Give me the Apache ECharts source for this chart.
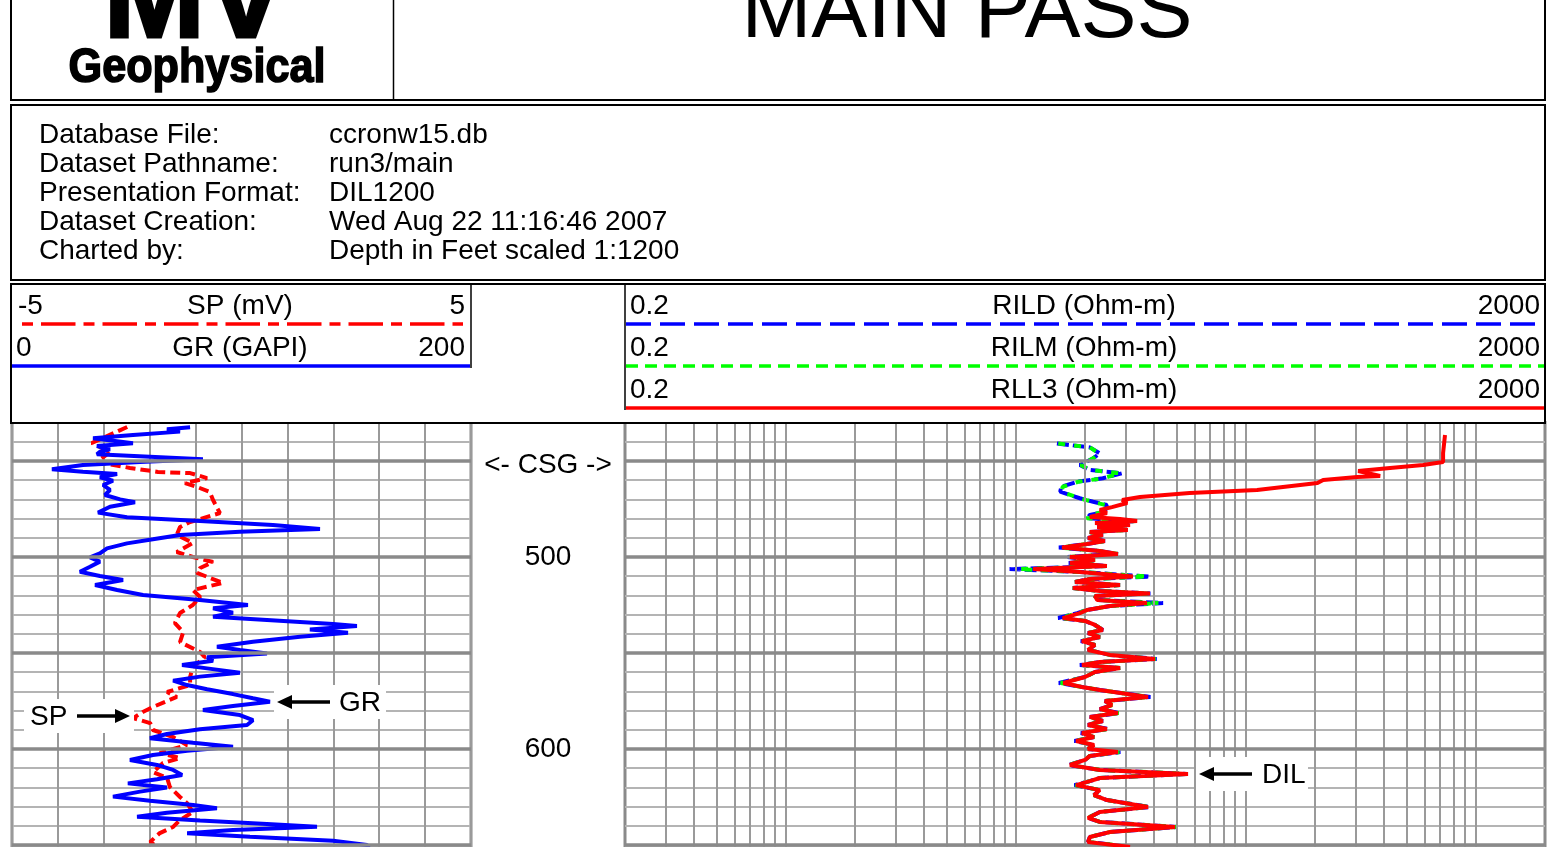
<!DOCTYPE html>
<html><head><meta charset="utf-8">
<script src="https://cdn.jsdelivr.net/npm/echarts@6/dist/echarts.min.js"></script>
<style>html,body{margin:0;padding:0;background:#fff;}#c{width:1554px;height:847px;}</style>
</head><body><div id="c"></div>
<script>
// ---------------- data ----------------
const grDepth = [432.4,433.5,434.7,436.5,438.2,439.4,440.8,442.2,443.9,445.2,446.5,447.8,449.1,450.5,452.1,454.3,455.6,456.8,458.5,460.3,462.5,465.1,467.7,470.0,471.5,473.8,476.9,479.3,481.3,483.3,485.4,486.8,488.5,490.8,492.9,495.5,498.1,500.2,502.4,505.1,507.7,509.9,512.0,514.6,517.2,519.8,522.4,525.0,526.7,529.0,531.1,532.8,534.9,535.9,537.7,539.4,541.5,544.1,546.7,548.4,550.2,552.2,554.0,556.3,558.0,560.3,562.3,564.4,566.7,568.9,571.4,573.6,575.4,577.6,579.7,582.3,585.0,587.5,589.7,592.2,594.4,596.7,598.8,600.9,603.1,605.7,608.3,610.9,613.5,615.8,617.9,620.0,622.2,624.8,626.9,629.2,630.9,633.2,635.3,637.3,639.1,640.5,642.2,643.9,645.7,647.8,650.0,652.6];
const grValue = [77.6,67.5,73.2,52.7,35.3,44.0,52.7,37.0,42.7,38.3,37.0,60.1,83.2,55.8,30.9,17.4,30.9,45.8,38.3,44.0,39.7,42.7,40.5,47.1,53.6,42.7,37.5,50.1,81.9,113.7,134.2,99.3,73.2,61.4,50.1,41.4,38.3,34.0,38.3,34.0,29.6,38.3,48.4,36.2,45.8,57.1,81.9,102.8,87.6,96.3,87.6,111.1,139.9,150.3,129.8,146.4,125.5,105.0,89.3,99.3,111.1,85.0,87.6,74.1,85.0,99.3,81.9,70.2,76.3,85.0,96.3,105.0,112.4,96.3,83.2,99.3,105.0,102.4,81.9,67.5,60.1,78.9,96.3,76.3,61.4,51.4,63.2,70.2,74.1,63.2,50.5,67.5,55.8,44.0,60.1,78.9,89.3,67.5,54.5,81.9,111.1,132.9,96.3,76.3,103.7,139.9,154.7,156.0];

const spDepth = [432.3,440.6,445.3,450.5,453.6,455.7,456.3,458.9,461.5,463.5,466.1,470.3,474.5,477.1,480.2,481.8,484.4,488.5,492.7,497.4,500.0,502.6,505.7,508.3,513.5,517.2,520.8,525.0,529.2,534.4,539.1,544.3,549.5,552.1,557.3,562.5,566.7,570.3,572.9,578.1,580.7,583.9,586.5,590.1,593.8,597.9,602.1,604.7,607.3,612.0,615.1,619.8,625.0,628.1,632.8,637.0,640.6,643.8,648.4,651.0];
const spValue = [-2.49,-3.26,-2.86,-3.15,-2.43,-1.82,-1.12,-0.75,-1.23,-0.97,-0.69,-0.62,-0.53,-0.47,-0.90,-1.12,-1.34,-1.41,-1.06,-1.41,-1.06,-0.62,-0.90,-0.97,-0.40,-1.06,-0.90,-1.06,-1.34,-1.45,-1.27,-1.34,-0.90,-0.80,-1.06,-1.12,-1.12,-1.62,-1.41,-1.93,-2.15,-2.36,-1.99,-1.93,-1.49,-1.19,-1.78,-1.34,-1.71,-1.93,-1.62,-1.56,-1.34,-1.19,-1.06,-1.34,-1.49,-1.78,-1.99,-1.84];

const rll3Depth = [436.5,445.8,450.5,452.1,453.6,455.2,457.8,458.3,459.9,461.5,465.1,466.7,468.8,470.3,471.9,474.0,475.5,477.1,479.2,480.2,481.3,482.3,483.3,484.4,485.9,487.0,488.5,490.1,491.7,493.2,495.1,496.9,498.4,500.0,501.6,503.1,504.7,506.3,507.8,510.2,511.5,513.0,514.6,516.1,517.7,519.0,520.3,522.4,524.0,525.5,527.6,529.2,531.8,533.3,535.4,538.0,539.6,541.7,543.8,545.8,548.4,551.0,553.1,554.7,556.3,557.8,559.9,562.5,565.6,567.7,569.3,572.9,575.0,577.1,579.2,581.3,583.3,585.4,587.5,589.6,591.7,593.8,595.8,597.9,600.0,601.6,603.6,605.7,608.3,610.9,613.0,615.1,616.7,618.8,621.4,624.0,626.6,630.2,632.8,635.9,638.0,640.6,643.2,645.8,648.4,651.0];
const rll3Value = [735,721,721,590,424,308,384,305,217,205,112,57,34.7,29.0,30.5,26.2,23.2,24.9,21.0,28.4,33.7,22.1,31.4,22.6,30.7,21.0,23.9,20.6,24.4,20.4,15.9,23.2,27.8,17.2,22.1,17.2,24.9,11.9,19.0,32.3,21.0,18.1,28.4,17.7,23.2,38.3,22.1,22.6,37.2,25.7,20.4,19.0,16.0,20.0,22.1,23.9,20.6,23.2,19.4,22.1,20.6,25.7,40.3,23.2,19.4,28.4,22.1,20.0,16.1,19.4,23.2,37.6,24.4,26.2,23.2,27.8,21.0,23.9,20.6,24.9,19.4,21.9,18.3,21.9,20.6,27.8,21.0,20.0,17.2,23.2,56.1,23.2,21.0,18.3,23.2,21.9,24.9,37.6,23.2,20.6,23.2,49.3,25.7,21.0,20.6,31.4];

const rildDepth = [440.9,442.9,446.0,448.6,452.1,454.7,456.4,459.0,460.8,463.4,466.0,469.4,471.2,472.9,476.4,478.1,479.8,481.3,482.3,483.3,484.4,485.9,487.0,488.5,490.1,491.7,493.2,495.1,496.9,498.4,500.0,501.6,503.1,504.7,506.3,507.8,510.2,511.5,513.0,514.6,516.1,517.7,519.0,520.3,522.4,524.0,525.5,527.6,529.2,531.8,533.3,535.4,538.0,539.6,541.7,543.8,545.8,548.4,551.0,553.1,554.7,556.3,557.8,559.9,562.5,565.6,567.7,569.3,572.9,575.0,577.1,579.2,581.3,583.3,585.4,587.5,589.6,591.7,593.8,595.8,597.9,600.0,601.6,603.6,605.7,608.3,610.9,613.0,615.1,616.7,618.8,621.4,624.0,626.6,630.2,632.8,635.9,638.0,640.6,643.2,645.8,648.4,651.0];
const rildValue = [15.1,21.0,23.2,21.7,19.0,21.0,29.0,23.9,18.5,15.8,15.6,19.0,21.7,24.9,24.4,21.0,20.4,33.0,22.3,31.0,22.6,30.5,21.0,23.9,20.6,24.4,20.4,15.4,23.2,27.8,16.8,22.1,17.0,24.9,9.4,19.0,38.3,21.0,18.1,28.4,17.7,23.2,38.5,22.1,22.6,43.7,25.7,20.4,18.5,15.3,20.0,22.1,23.9,20.6,23.2,19.2,22.1,20.6,25.7,41.0,23.2,19.0,28.4,22.1,20.0,15.4,19.4,23.2,38.5,24.4,26.2,23.2,28.2,21.0,23.9,20.6,25.3,19.2,21.9,18.0,21.9,20.6,28.5,21.0,20.0,17.0,23.2,55.0,23.2,21.0,18.0,23.2,21.9,24.9,38.3,23.2,20.6,23.2,50.5,25.7,21.0,20.6,31.4];
const rilmValue = [15.3,21.0,23.0,21.7,19.2,21.0,28.5,23.9,18.7,16.0,15.8,19.0,21.5,24.5,24.2,21.0,20.4,33.3,22.2,31.2,22.6,30.6,21.0,23.9,20.6,24.4,20.4,15.6,23.2,27.8,17.0,22.1,17.1,24.9,10.3,19.0,37.5,21.0,18.1,28.4,17.7,23.2,38.4,22.1,22.6,42.0,25.7,20.4,18.7,15.6,20.0,22.1,23.9,20.6,23.2,19.3,22.1,20.6,25.7,40.6,23.2,19.2,28.4,22.1,20.0,15.7,19.4,23.2,38.0,24.4,26.2,23.2,28.0,21.0,23.9,20.6,25.1,19.3,21.9,18.1,21.9,20.6,28.2,21.0,20.0,17.1,23.2,55.5,23.2,21.0,18.1,23.2,21.9,24.9,38.0,23.2,20.6,23.2,50.0,25.7,21.0,20.6,31.4];

const logGridValues = [0.3,0.4,0.5,0.6,0.7,0.8,0.9,1,2,3,4,5,6,7,8,9,10,20,30,40,50,60,70,80,90,100,200,300,400,500,600,700,800,900,1000];
const majorDepths = [450,500,550,600,650];
const depthLabels = [500,600];
const casingLabel = {text:'<- CSG ->', depth:452.3};

const infoLabels = ['Database File:','Dataset Pathname:','Presentation Format:','Dataset Creation:','Charted by:'];
const infoValues = ['ccronw15.db','run3/main','DIL1200','Wed Aug 22 11:16:46 2007','Depth in Feet scaled 1:1200'];

// ---------------- chart ----------------
const FONT = '"Liberation Sans", Arial, Helvetica, sans-serif';
const FS = 28;
const zip = (v, d) => v.map((x, i) => [x, d[i]]);
const chart = echarts.init(document.getElementById('c'), null, {renderer:'canvas'});

const Y0 = 422.6, PXFT = 1.92, DMIN = 430;
const DMAX = DMIN + (847 - Y0) / PXFT;
const yAxisBase = {type:'value', inverse:true, min:DMIN, max:DMAX, interval:10,
  axisLine:{show:false}, axisTick:{show:false}, axisLabel:{show:false},
  splitLine:{show:true, lineStyle:{color:'#b4b4b4', width:2}}};

function txt(t, x, y, size, align, extra) {
  return Object.assign({type:'text', x:x, y:y, z:100, silent:true,
    style:{text:t, fill:'#000', fontSize:size, fontFamily:FONT, textAlign:align||'left', align:align||'left',
      textVerticalAlign:'middle', verticalAlign:'middle'}}, extra||{});
}
function line(x1,y1,x2,y2,color,w,dash){
  return {type:'line', z:100, silent:true, shape:{x1:x1,y1:y1,x2:x2,y2:y2},
    style:{stroke:color, lineWidth:w, lineDash:dash||null}};
}
function arrowLabel(label, textX, y, x1, x2, boxX, boxW) {
  const dir = x2 > x1 ? 1 : -1;
  const tip = x2, base = x2 - dir*15;
  return [
    {type:'rect', z:90, silent:true, shape:{x:boxX, y:y-17, width:boxW, height:34}, style:{fill:'#fff'}},
    line(x1, y, base, y, '#000', 3.5),
    {type:'polygon', z:100, silent:true, shape:{points:[[tip,y],[base,y-7],[base,y+7]]}, style:{fill:'#000'}},
    txt(label, textX, y+1, FS, 'left')
  ];
}
function boldText(t, x, y, size, sx, sw){
  return {type:'text', z:100, silent:true, x:x, y:y, scaleX:sx||1,
    style:{text:t, fill:'#000', stroke:'#000', lineWidth:sw||0, fontSize:size, fontWeight:'bold', fontFamily:FONT,
      textAlign:'center', align:'center', textVerticalAlign:'middle', verticalAlign:'middle'}};
}

const graphics = [];
// top title box
graphics.push({type:'rect', z:99, silent:true, shape:{x:11,y:-10,width:1534,height:110}, style:{fill:'#fff', stroke:'#000', lineWidth:2}});
graphics.push(line(393.5,0,393.5,100,'#000',1.5));
graphics.push(boldText('MV', 195, 3, 122, 1, 3));
graphics.push(boldText('Geophysical', 197, 69, 48, 0.9, 1.6));
graphics.push(txt('MAIN PASS', 967, 14, 84, 'center'));
// info box
graphics.push({type:'rect', z:99, silent:true, shape:{x:11,y:105,width:1534,height:175}, style:{fill:'#fff', stroke:'#000', lineWidth:2}});
infoLabels.forEach((t,i)=>{ graphics.push(txt(t, 39, 135 + i*29, FS, 'left')); });
infoValues.forEach((t,i)=>{ graphics.push(txt(t, 329, 135 + i*29, FS, 'left')); });
// curve header box
graphics.push({type:'rect', z:99, silent:true, shape:{x:11,y:284,width:1534,height:139}, style:{fill:'#fff', stroke:'#000', lineWidth:2}});
graphics.push(line(471,284,471,368,'#000',1.5));
graphics.push(line(625,284,625,410,'#000',1.5));
graphics.push(txt('-5', 18, 306, FS, 'left'));
graphics.push(txt('SP (mV)', 240, 306, FS, 'center'));
graphics.push(txt('5', 465, 306, FS, 'right'));
graphics.push(line(22,324,463,324,'#ff0000',3.5,[11,8,34.5,8]));
graphics.push(txt('0', 16, 348, FS, 'left'));
graphics.push(txt('GR (GAPI)', 240, 348, FS, 'center'));
graphics.push(txt('200', 465, 348, FS, 'right'));
graphics.push(line(12,366,470,366,'#0000ff',3.5));
const resRows = [['RILD (Ohm-m)','#0000ff',[25,9]],['RILM (Ohm-m)','#00ff00',[12,7]],['RLL3 (Ohm-m)','#ff0000',null]];
resRows.forEach((r,i)=>{
  const y = 306 + i*42;
  graphics.push(txt('0.2', 630, y, FS, 'left'));
  graphics.push(txt(r[0], 1084, y, FS, 'center'));
  graphics.push(txt('2000', 1540, y, FS, 'right'));
  graphics.push(line(626, y+18, 1544, y+18, r[1], 3.5, r[2]));
});
// annotations
arrowLabel('SP', 30, 716, 77, 130, 24, 110).forEach(g=>graphics.push(g));
arrowLabel('GR', 339, 702, 330, 277, 274, 112).forEach(g=>graphics.push(g));
arrowLabel('DIL', 1262, 774, 1252, 1199, 1196, 112).forEach(g=>graphics.push(g));

const gridStyle = {show:true, borderColor:'#8a8a8a', borderWidth:3, backgroundColor:'#fff'};
const H = 847 - Y0;
const labelStyle = {show:true, position:'inside', fontSize:FS, fontFamily:FONT, color:'#000', opacity:1, textBorderWidth:0};
const option = {
  animation:false,
  backgroundColor:'#fff',
  grid:[
    Object.assign({left:12, width:459, top:Y0, height:H}, gridStyle),
    Object.assign({left:625, width:920, top:Y0, height:H}, gridStyle),
    {left:472, width:152, top:Y0, height:H, show:false}
  ],
  xAxis:[
    {gridIndex:0, type:'value', min:0, max:200, interval:20, axisLine:{show:false}, axisTick:{show:false}, axisLabel:{show:false},
      splitLine:{show:true, lineStyle:{color:'#9a9a9a', width:2}}},
    {gridIndex:0, type:'value', min:-5, max:5, show:false, splitLine:{show:false}},
    {gridIndex:1, type:'log', logBase:10, min:0.2, max:2000, axisLine:{show:false}, axisTick:{show:false}, axisLabel:{show:false}, splitLine:{show:false}},
    {gridIndex:2, type:'value', min:-1, max:1, show:false, splitLine:{show:false}}
  ],
  yAxis:[
    Object.assign({gridIndex:0}, yAxisBase),
    Object.assign({gridIndex:1}, yAxisBase),
    {gridIndex:2, type:'value', inverse:true, min:DMIN, max:DMAX, show:false, splitLine:{show:false}}
  ],
  graphic:{elements:graphics},
  series:[
    {type:'line', xAxisIndex:0, yAxisIndex:0, data:[], z:1, silent:true,
      markLine:{silent:true, symbol:'none', label:{show:false}, lineStyle:{color:'#8a8a8a', width:3.5, type:'solid'},
        data:majorDepths.map(d=>({yAxis:d}))}},
    {type:'line', xAxisIndex:2, yAxisIndex:1, data:[], z:1, silent:true,
      markLine:{silent:true, symbol:'none', label:{show:false}, lineStyle:{color:'#9a9a9a', width:2, type:'solid'},
        data:logGridValues.map(v=>({xAxis:v}))}},
    {type:'line', xAxisIndex:2, yAxisIndex:1, data:[], z:1, silent:true,
      markLine:{silent:true, symbol:'none', label:{show:false}, lineStyle:{color:'#8a8a8a', width:3.5, type:'solid'},
        data:majorDepths.map(d=>({yAxis:d}))}},
    {name:'SP', type:'line', xAxisIndex:1, yAxisIndex:0, z:3, data:zip(spValue, spDepth), showSymbol:false,
      lineStyle:{color:'#ff0000', width:4, type:[10,5]}},
    {name:'GR', type:'line', xAxisIndex:0, yAxisIndex:0, z:4, data:zip(grValue, grDepth), showSymbol:false,
      lineStyle:{color:'#0000ff', width:4}},
    {name:'RILD', type:'line', xAxisIndex:2, yAxisIndex:1, z:3, data:zip(rildValue, rildDepth), showSymbol:false,
      lineStyle:{color:'#0000ff', width:4, type:[12,4]}},
    {name:'RILM', type:'line', xAxisIndex:2, yAxisIndex:1, z:4, data:zip(rilmValue, rildDepth), showSymbol:false,
      lineStyle:{color:'#00ff00', width:4, type:[7,9]}},
    {name:'RLL3', type:'line', xAxisIndex:2, yAxisIndex:1, z:5, data:zip(rll3Value, rll3Depth), showSymbol:false,
      lineStyle:{color:'#ff0000', width:4}},
    {type:'scatter', xAxisIndex:3, yAxisIndex:2, symbolSize:1, z:5, silent:true,
      itemStyle:{color:'rgba(0,0,0,0)', opacity:1},
      data:depthLabels.map(d=>[0,d]),
      label:Object.assign({formatter:p=>String(p.value[1])}, labelStyle)},
    {type:'scatter', xAxisIndex:3, yAxisIndex:2, symbolSize:1, z:5, silent:true,
      itemStyle:{color:'rgba(0,0,0,0)', opacity:1},
      data:[[0, casingLabel.depth]],
      label:Object.assign({formatter:casingLabel.text}, labelStyle)}
  ]
};
chart.setOption(option);
</script>
</body></html>
